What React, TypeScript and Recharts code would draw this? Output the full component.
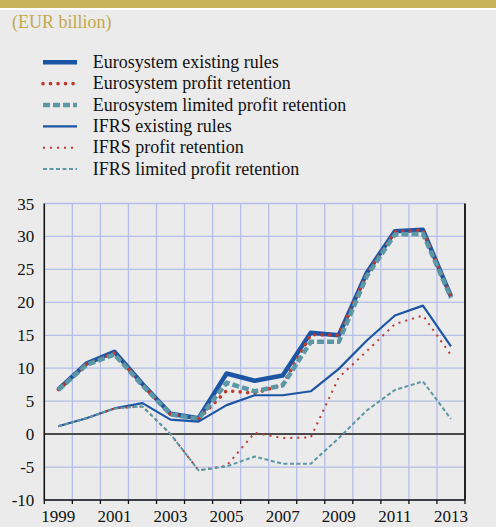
import { LineChart, Line, XAxis, YAxis, CartesianGrid, ReferenceLine } from 'recharts';

// ── Data ────────────────────────────────────────────────
const years = [1999, 2000, 2001, 2002, 2003, 2004, 2005, 2006, 2007, 2008, 2009, 2010, 2011, 2012, 2013];

const euroExisting = [6.8, 10.7, 12.5, 7.6, 3.1, 2.4, 9.2, 8.1, 8.9, 15.4, 15.0, 24.5, 30.8, 31.0, 20.9];
const euroProfit = [6.8, 10.6, 12.3, 7.5, 3.0, 2.3, 6.6, 6.2, 7.5, 15.1, 15.0, 24.3, 30.7, 31.0, 20.9];
const euroLimited = [6.7, 10.5, 12.1, 7.4, 3.0, 2.3, 7.8, 6.5, 7.4, 14.0, 14.0, 24.0, 30.3, 30.4, 20.7];
const ifrsExisting = [1.2, 2.4, 3.9, 4.7, 2.2, 1.9, 4.4, 5.9, 5.9, 6.5, 9.9, 14.2, 18.0, 19.5, 13.3];
const ifrsProfit = [1.2, 2.4, 3.9, 4.2, 0.0, -5.5, -4.8, 0.2, -0.6, -0.5, 8.6, 12.6, 16.7, 18.0, 12.0];
const ifrsLimited = [1.2, 2.4, 3.9, 4.2, 0.0, -5.5, -4.9, -3.4, -4.5, -4.5, -0.6, 3.6, 6.7, 8.0, 2.3];

const yTicks = [-10, -5, 0, 5, 10, 15, 20, 25, 30, 35];
const xLabels = [1999, 2001, 2003, 2005, 2007, 2009, 2011, 2013];
// tick marks and vertical grid sit on the borders between years
const xBorders = [...years.map((y) => y - 0.5), years[years.length - 1] + 0.5];

// ── Styles ──────────────────────────────────────────────
const SERIF = '"Liberation Serif", "Times New Roman", serif';
const BLUE = '#1d55a5';
const RED = '#c0392d';
const TEAL = '#5b97a4';

interface SeriesDef {
  key: string;
  name: string;
  values: number[];
  color: string;
  width: number;
  dash?: string;
  cap?: 'round' | 'butt';
}

const series: SeriesDef[] = [
  { key: 'euroExisting', name: 'Eurosystem existing rules', values: euroExisting, color: BLUE, width: 4.5 },
  { key: 'euroProfit', name: 'Eurosystem profit retention', values: euroProfit, color: RED, width: 3.6, dash: '0.01 7.5', cap: 'round' },
  { key: 'euroLimited', name: 'Eurosystem limited profit retention', values: euroLimited, color: TEAL, width: 4.5, dash: '7 3' },
  { key: 'ifrsExisting', name: 'IFRS existing rules', values: ifrsExisting, color: BLUE, width: 2.2 },
  { key: 'ifrsProfit', name: 'IFRS profit retention', values: ifrsProfit, color: RED, width: 2, dash: '2 5' },
  { key: 'ifrsLimited', name: 'IFRS limited profit retention', values: ifrsLimited, color: TEAL, width: 2, dash: '4 2.5' },
];

const data = years.map((year, i) => {
  const row: Record<string, number> = { year };
  series.forEach((s) => {
    row[s.key] = s.values[i];
  });
  return row;
});

// ── Layout ──────────────────────────────────────────────
const W = 496;
const H = 527;
const MARGIN = { top: 203.5, right: 0, bottom: 5, left: 8.3 };
const LEFT_AXIS_W = 36;
const RIGHT_AXIS_W = 31;
const PLOT_W = W - MARGIN.left - MARGIN.right - LEFT_AXIS_W - RIGHT_AXIS_W;
const HALF_BAND = PLOT_W / years.length / 2;

function YearTick(props: any) {
  const { x, y, payload } = props;
  const year = payload.value + 0.5;
  if (!xLabels.includes(year)) return <g />;
  return (
    <text x={x + HALF_BAND} y={y} dy="0.71em" textAnchor="middle" fontSize={17} fill="#111" fontFamily={SERIF}>
      {year}
    </text>
  );
}

function ChartLegend() {
  return (
    <svg width={360} height={185} style={{ position: 'absolute', left: 0, top: 0 }}>
      {series.map((s, i) => {
        const cy = 62.3 + i * 21.35;
        return (
          <g key={s.key}>
            <line
              x1={43}
              x2={77}
              y1={cy}
              y2={cy}
              stroke={s.color}
              strokeWidth={s.width}
              strokeDasharray={s.dash}
              strokeLinecap={s.cap ?? 'butt'}
            />
            <text x={92.7} y={cy + 5.5} fontSize={18} fill="#111" fontFamily={SERIF}>
              {s.name}
            </text>
          </g>
        );
      })}
    </svg>
  );
}

export default function App() {
  const tickStyle = { fill: '#111', fontSize: 17, fontFamily: SERIF };
  return (
    <div
      style={{
        position: 'absolute',
        left: 0,
        top: 0,
        width: W,
        height: H,
        background: '#ebebeb',
        overflow: 'hidden',
        fontFamily: SERIF,
      }}
    >
      <div style={{ position: 'absolute', left: 0, top: 0, width: W, height: 8, background: '#c8b35b' }} />
      <div style={{ position: 'absolute', left: 0, top: 8, width: W, height: 2, background: '#fff' }} />
      <div style={{ position: 'absolute', left: 12, top: 11, fontSize: 18, color: '#c4a94b', lineHeight: '22px' }}>
        (EUR billion)
      </div>

      <div style={{ position: 'absolute', left: 0, top: 0 }}>
        <LineChart width={W} height={H} data={data} margin={MARGIN}>
          <CartesianGrid yAxisId="left" stroke="#b5bee6" strokeWidth={1.3} ticks={undefined} />
          <XAxis
            dataKey="year"
            type="number"
            domain={[xBorders[0], xBorders[xBorders.length - 1]]}
            ticks={xBorders}
            interval={0}
            height={22}
            tickSize={4}
            tickMargin={6}
            axisLine={{ stroke: '#111', strokeWidth: 1.5 }}
            tickLine={{ stroke: '#111', strokeWidth: 1.3 }}
            tick={<YearTick />}
          />
          <YAxis
            yAxisId="left"
            domain={[-10, 35]}
            ticks={yTicks}
            interval={0}
            width={LEFT_AXIS_W}
            tickSize={0}
            tickMargin={10}
            axisLine={{ stroke: '#111', strokeWidth: 1.5 }}
            tickLine={false}
            tick={tickStyle}
          />
          <YAxis
            yAxisId="right"
            orientation="right"
            domain={[-10, 35]}
            ticks={yTicks}
            interval={0}
            width={RIGHT_AXIS_W}
            tickSize={0}
            tickMargin={12}
            axisLine={{ stroke: '#222', strokeWidth: 2 }}
            tickLine={false}
            tick={{ ...tickStyle, textAnchor: 'start' }}
          />
          <ReferenceLine yAxisId="left" y={0} stroke="#4a4a4a" strokeWidth={2} />
          {series.map((s) => (
            <Line
              key={s.key}
              yAxisId="left"
              type="linear"
              dataKey={s.key}
              name={s.name}
              stroke={s.color}
              strokeWidth={s.width}
              strokeDasharray={s.dash}
              strokeLinecap={s.cap ?? 'butt'}
              strokeLinejoin="round"
              dot={false}
              activeDot={false}
              isAnimationActive={false}
            />
          ))}
        </LineChart>
      </div>

      <ChartLegend />
    </div>
  );
}
